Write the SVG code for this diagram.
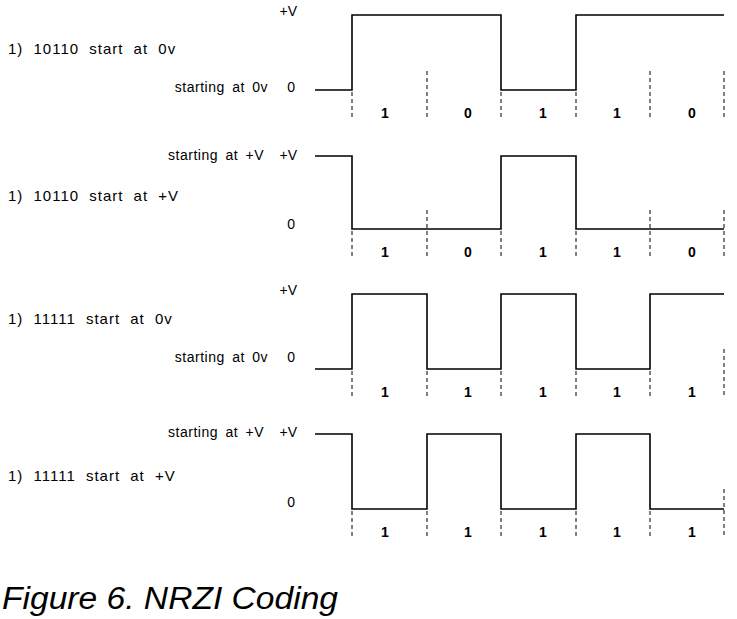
<svg xmlns="http://www.w3.org/2000/svg" width="737" height="619" viewBox="0 0 737 619">
<style>
.lbl{font-family:"Liberation Sans",Arial,sans-serif;font-size:15px;fill:#000;letter-spacing:1px;word-spacing:5px}
.sm{font-family:"Liberation Sans",Arial,sans-serif;font-size:14px;fill:#000;text-anchor:end;letter-spacing:0.5px;word-spacing:3px}
.lv{font-family:"Liberation Sans",Arial,sans-serif;font-size:14px;fill:#000;text-anchor:end}
.bit{font-family:"Liberation Sans",Arial,sans-serif;font-size:14px;font-weight:bold;fill:#000;text-anchor:middle}
.wave{fill:none;stroke:#000;stroke-width:1.6}
.dash{stroke:#000;stroke-width:1;stroke-dasharray:4,3}
.cap{font-family:"Liberation Sans",Arial,sans-serif;font-size:31px;font-style:italic;fill:#000}
</style>
<rect width="737" height="619" fill="#fff"/>

<g id="row1">
<text class="lbl" x="8" y="54">1) 10110 start at 0v</text>
<text class="lv" x="297" y="16">+V</text>
<text class="sm" x="268" y="92">starting at 0v</text>
<text class="lv" x="295" y="92">0</text>
<path class="wave" d="M315,90 H352 V15 H501 V90 H576 V15 H724"/>
<text class="bit" x="385" y="118">1</text><text class="bit" x="468" y="118">0</text><text class="bit" x="543" y="118">1</text><text class="bit" x="617" y="118">1</text><text class="bit" x="692" y="118">0</text>
</g>

<g id="row2">
<text class="lbl" x="8" y="201">1) 10110 start at +V</text>
<text class="sm" x="264" y="160">starting at +V</text>
<text class="lv" x="297" y="160">+V</text>
<text class="lv" x="295" y="229">0</text>
<path class="wave" d="M315,156 H352 V229 H501 V156 H576 V229 H724"/>
<text class="bit" x="385" y="257">1</text><text class="bit" x="468" y="257">0</text><text class="bit" x="543" y="257">1</text><text class="bit" x="617" y="257">1</text><text class="bit" x="692" y="257">0</text>
</g>

<g id="row3">
<text class="lbl" x="8" y="324">1) 11111 start at 0v</text>
<text class="lv" x="297" y="295">+V</text>
<text class="sm" x="268" y="362">starting at 0v</text>
<text class="lv" x="295" y="362">0</text>
<path class="wave" d="M315,369 H352 V294 H427 V369 H501 V294 H576 V369 H650 V294 H724"/>
<text class="bit" x="385" y="397">1</text><text class="bit" x="468" y="397">1</text><text class="bit" x="543" y="397">1</text><text class="bit" x="617" y="397">1</text><text class="bit" x="692" y="397">1</text>
</g>

<g id="row4">
<text class="lbl" x="8" y="481">1) 11111 start at +V</text>
<text class="sm" x="264" y="437">starting at +V</text>
<text class="lv" x="297" y="437">+V</text>
<text class="lv" x="295" y="507">0</text>
<path class="wave" d="M315,434 H352 V509 H427 V434 H501 V509 H576 V434 H650 V509 H724"/>
<text class="bit" x="385" y="537">1</text><text class="bit" x="468" y="537">1</text><text class="bit" x="543" y="537">1</text><text class="bit" x="617" y="537">1</text><text class="bit" x="692" y="537">1</text>
</g>

<g id="connectors">
<path class="dash" d="M352,92 V118 M427,71 V118 M501,92 V118 M576,92 V118 M650,71 V118 M724,71 V118"/>
<path class="dash" d="M352,231 V257 M427,210 V257 M501,231 V257 M576,231 V257 M650,210 V257 M724,210 V257"/>
<path class="dash" d="M352,371 V397 M427,371 V397 M501,371 V397 M576,371 V397 M650,371 V397 M724,349 V397"/>
<path class="dash" d="M352,511 V537 M427,511 V537 M501,511 V537 M576,511 V537 M650,511 V537 M724,489 V537"/>
</g>

<g id="caption">
<text class="cap" x="2" y="609" textLength="336" lengthAdjust="spacingAndGlyphs">Figure 6. NRZI Coding</text>
</g>
</svg>
